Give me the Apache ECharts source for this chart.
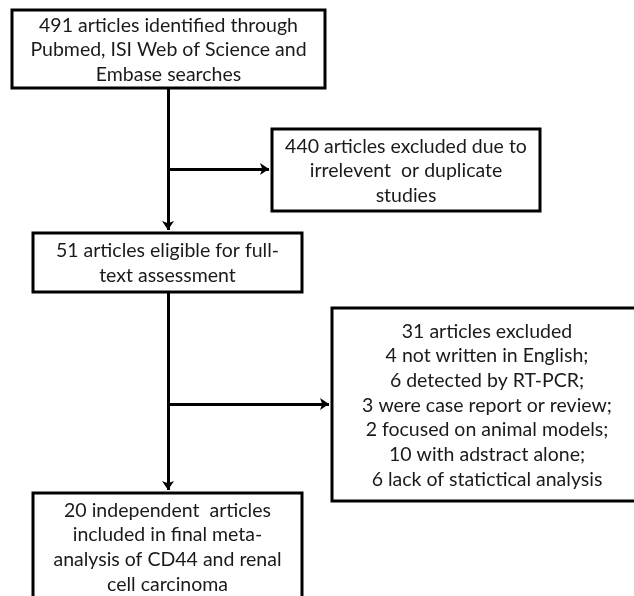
<!DOCTYPE html>
<html>
<head>
<meta charset="utf-8">
<script src="https://cdn.jsdelivr.net/npm/echarts@6/dist/echarts.min.js"></script>
<style>html,body{margin:0;padding:0;background:#fff}#c{width:634px;height:596px}</style>
</head>
<body>
<div id="c"></div>
<script>
// Flowchart content
const boxNames = ['identified', 'excluded1', 'eligible', 'excluded2', 'included'];
const boxTexts = [
  ['491 articles identified through', 'Pubmed, ISI Web of Science and', 'Embase searches'],
  ['440 articles excluded due to', 'irrelevent  or duplicate', 'studies'],
  ['51 articles eligible for full-', 'text assessment'],
  ['31 articles excluded', '4 not written in English;', '6 detected by RT-PCR;', '3 were case report or review;', '2 focused on animal models;', '10 with adstract alone;', '6 lack of statictical analysis'],
  ['20 independent  articles', 'included in final meta-', 'analysis of CD44 and renal', 'cell carcinoma']
];

// Layout (pixel space of the hidden axes)
const boxRects = [
  [12, 10, 325, 88],
  [272, 129, 540, 211],
  [33, 233, 302, 292],
  [332, 308, 642, 501],
  [33, 493, 302, 600]
];
const connectors = [
  [[168, 88], [168, 230]],
  [[168, 169], [269, 169]],
  [[168, 292], [168, 490]],
  [[168, 404], [329, 404]]
];

const chart = echarts.init(document.getElementById('c'), null, {renderer: 'canvas'});
const fontFamily = 'Lato, "Open Sans", sans-serif';

chart.setOption({
  animation: false,
  backgroundColor: '#ffffff',
  grid: {left: 0, right: 0, top: 0, bottom: 0},
  xAxis: {type: 'value', min: 0, max: 634, show: false},
  yAxis: {type: 'value', min: 0, max: 596, inverse: true, show: false},
  series: [
    {
      type: 'custom',
      clip: false,
      data: boxNames.map((n, i) => boxRects[i].concat([i])),
      renderItem: function (params, api) {
        const i = api.value(4);
        const p0 = api.coord([api.value(0), api.value(1)]);
        const p1 = api.coord([api.value(2), api.value(3)]);
        return {
          type: 'group',
          children: [
            {
              type: 'rect',
              shape: {x: p0[0], y: p0[1], width: p1[0] - p0[0], height: p1[1] - p0[1]},
              style: {fill: '#ffffff', stroke: '#000000', lineWidth: 3}
            },
            {
              type: 'text',
              style: {
                text: boxTexts[i].join('\n'),
                x: (p0[0] + p1[0]) / 2,
                y: (p0[1] + p1[1]) / 2 + 1,
                align: 'center',
                verticalAlign: 'middle',
                font: '19.5px ' + fontFamily,
                lineHeight: 24.7,
                fill: '#1a1a1a'
              }
            }
          ]
        };
      }
    },
    {
      type: 'lines',
      coordinateSystem: 'cartesian2d',
      symbol: ['none', 'arrow'],
      symbolSize: 9,
      lineStyle: {color: '#000000', width: 3, opacity: 1, curveness: 0},
      data: connectors.map(c => ({coords: c}))
    }
  ]
});
</script>
</body>
</html>
